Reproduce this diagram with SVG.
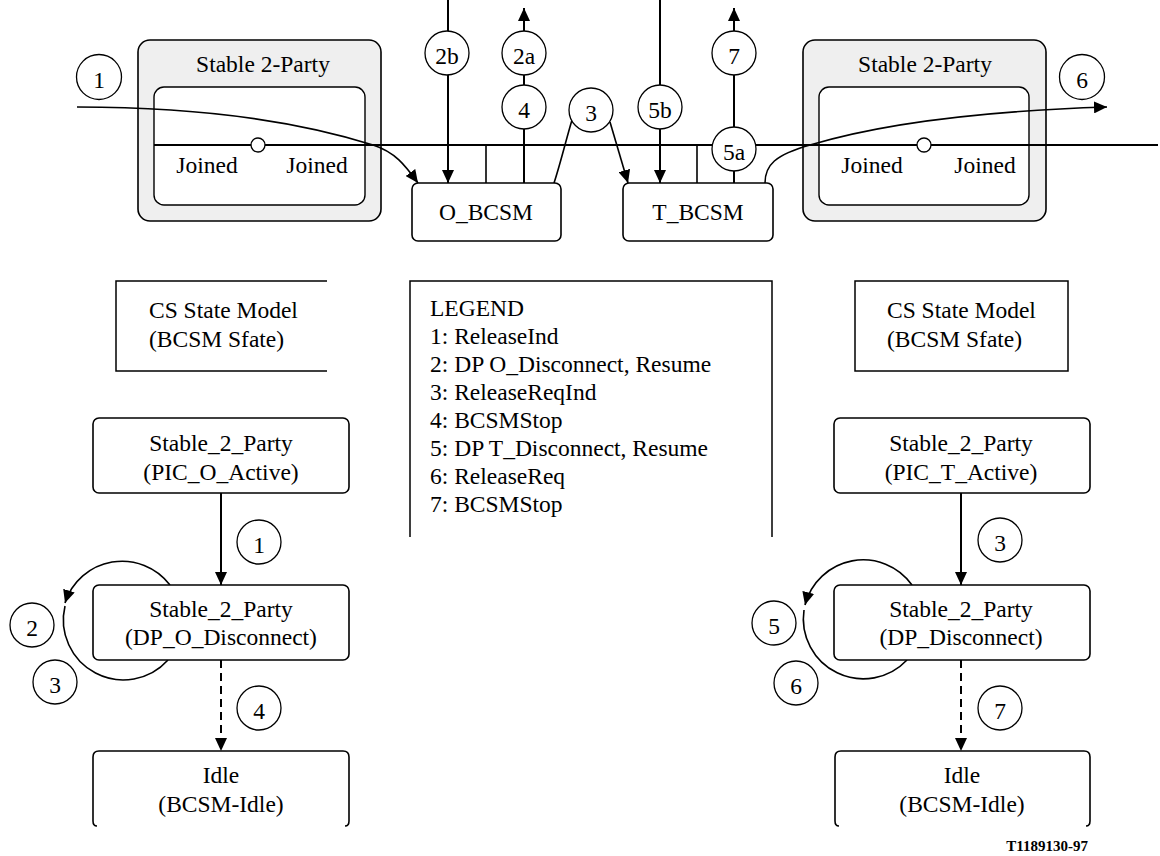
<svg xmlns="http://www.w3.org/2000/svg" width="1160" height="856" viewBox="0 0 1160 856" font-family="'Liberation Serif', 'DejaVu Serif', serif">
<style>
text{font-family:'Liberation Serif','DejaVu Serif',serif;font-size:23.5px;fill:#000}
.c{text-anchor:middle}
.box{fill:#fff;stroke:#000;stroke-width:1.6}
.gray{fill:#efefef;stroke:#000;stroke-width:1.6}
.inner{fill:#fff;stroke:#000;stroke-width:1.4}
.ln{fill:none;stroke:#000;stroke-width:2}
.thin{fill:none;stroke:#000;stroke-width:1.6}
.dash{fill:none;stroke:#000;stroke-width:2;stroke-dasharray:8 5}
.lbl{fill:#fff;stroke:#000;stroke-width:1.3}
.frame{fill:none;stroke:#000;stroke-width:1.5}
</style>
<defs>
<marker id="ah" viewBox="0 0 13 12" refX="13" refY="6" markerWidth="13" markerHeight="12" markerUnits="userSpaceOnUse" orient="auto"><path d="M0,0 L13,6 L0,12 z" fill="#000"/></marker>
</defs>
<rect width="1160" height="856" fill="#fff"/>

<g id="stable-left">
<rect class="gray" x="138" y="40" width="243" height="181" rx="12"/>
<rect class="inner" x="154" y="87" width="211" height="118" rx="10"/>
<text class="c" x="263" y="72">Stable 2-Party</text>
<text class="c" x="207" y="173">Joined</text>
<text class="c" x="317" y="173">Joined</text>
</g>
<g id="stable-right">
<rect class="gray" x="803" y="40" width="243" height="181" rx="12"/>
<rect class="inner" x="819" y="87" width="210" height="118" rx="10"/>
<text class="c" x="925" y="72">Stable 2-Party</text>
<text class="c" x="872" y="173">Joined</text>
<text class="c" x="985" y="173">Joined</text>
</g>

<g id="o-bcsm">
<rect class="box" x="412" y="183" width="149" height="58" rx="6"/>
<text class="c" x="486" y="220">O_BCSM</text>
</g>
<g id="t-bcsm">
<rect class="box" x="623" y="183" width="150" height="58" rx="6"/>
<text class="c" x="698" y="220">T_BCSM</text>
</g>

<g id="connectors">
<line class="ln" x1="154" y1="145" x2="1158" y2="145"/>
<line class="thin" x1="486" y1="145" x2="486" y2="183"/>
<line class="thin" x1="697" y1="145" x2="697" y2="183"/>
<path class="thin" d="M77,107 C200,107 300,122 373,145 C395,152 405,165 418,183" marker-end="url(#ah)"/>
<line class="ln" x1="448" y1="0" x2="448" y2="183" marker-end="url(#ah)"/>
<line class="ln" x1="524" y1="183" x2="524" y2="8" marker-end="url(#ah)"/>
<path class="thin" d="M554,183 C560,165 566,140 572,120"/>
<line class="thin" x1="610" y1="122" x2="628" y2="183" marker-end="url(#ah)"/>
<line class="ln" x1="660" y1="0" x2="660" y2="183" marker-end="url(#ah)"/>
<line class="ln" x1="734" y1="183" x2="734" y2="8" marker-end="url(#ah)"/>
<path class="thin" d="M765,183 C765,165 775,155 810,145 C860,130 950,112 1107,107" marker-end="url(#ah)"/>

<line class="ln" x1="221" y1="493" x2="221" y2="585" marker-end="url(#ah)"/>
<path class="thin" d="M170,585 A60,60 0 0 0 65,603" marker-end="url(#ah)"/>
<path class="thin" d="M65,606 A60,60 0 0 0 168,660"/>
<line class="dash" x1="221" y1="660" x2="221" y2="751" marker-end="url(#ah)"/>

<line class="ln" x1="961" y1="493" x2="961" y2="585" marker-end="url(#ah)"/>
<path class="thin" d="M912,585 A60,60 0 0 0 805,605" marker-end="url(#ah)"/>
<path class="thin" d="M804,610 A60,60 0 0 0 907,660"/>
<line class="dash" x1="961" y1="660" x2="961" y2="751" marker-end="url(#ah)"/>
</g>

<g id="points">
<circle class="lbl" cx="258" cy="145" r="7"/>
<circle class="lbl" cx="924" cy="145" r="7"/>
</g>

<g id="connector-labels">
<circle class="lbl" cx="99" cy="77" r="22.5"/><text class="c" x="99" y="88">1</text>
<circle class="lbl" cx="447" cy="53" r="22"/><text class="c" x="447" y="64">2b</text>
<circle class="lbl" cx="524" cy="53" r="22"/><text class="c" x="524" y="64">2a</text>
<circle class="lbl" cx="524" cy="107" r="22"/><text class="c" x="524" y="118">4</text>
<circle class="lbl" cx="591" cy="110" r="22"/><text class="c" x="591" y="121">3</text>
<circle class="lbl" cx="660" cy="107" r="22"/><text class="c" x="660" y="118">5b</text>
<circle class="lbl" cx="734" cy="53" r="22"/><text class="c" x="734" y="64">7</text>
<circle class="lbl" cx="734" cy="149" r="22"/><text class="c" x="734" y="160">5a</text>
<circle class="lbl" cx="1082" cy="77" r="22.5"/><text class="c" x="1082" y="88">6</text>

<circle class="lbl" cx="259" cy="542" r="22"/><text class="c" x="259" y="553">1</text>
<circle class="lbl" cx="32" cy="625" r="22"/><text class="c" x="32" y="636">2</text>
<circle class="lbl" cx="55" cy="682" r="22"/><text class="c" x="55" y="693">3</text>
<circle class="lbl" cx="259" cy="708" r="22"/><text class="c" x="259" y="719">4</text>

<circle class="lbl" cx="1000" cy="540" r="22"/><text class="c" x="1000" y="551">3</text>
<circle class="lbl" cx="774" cy="623" r="22"/><text class="c" x="774" y="634">5</text>
<circle class="lbl" cx="796" cy="683" r="22"/><text class="c" x="796" y="694">6</text>
<circle class="lbl" cx="1000" cy="708" r="22"/><text class="c" x="1000" y="719">7</text>
</g>

<g id="cs-left">
<path class="frame" d="M327,281 L116,281 L116,371 L327,371"/>
<text x="149" y="318">CS State Model</text>
<text x="149" y="347">(BCSM Sfate)</text>
</g>
<g id="legend">
<path class="frame" d="M410,537 L410,281 L772,281 L772,537"/>
<text x="430" y="316">LEGEND</text>
<text x="430" y="344">1: ReleaseInd</text>
<text x="430" y="372">2: DP O_Disconnect, Resume</text>
<text x="430" y="400">3: ReleaseReqInd</text>
<text x="430" y="428">4: BCSMStop</text>
<text x="430" y="456">5: DP T_Disconnect, Resume</text>
<text x="430" y="484">6: ReleaseReq</text>
<text x="430" y="512">7: BCSMStop</text>
</g>
<g id="cs-right">
<rect class="frame" x="855" y="281" width="213" height="90"/>
<text x="887" y="318">CS State Model</text>
<text x="887" y="347">(BCSM Sfate)</text>
</g>

<g id="pic-o-active">
<rect class="box" x="93" y="418" width="256" height="75" rx="6"/>
<text class="c" x="221" y="451">Stable_2_Party</text>
<text class="c" x="221" y="480">(PIC_O_Active)</text>
</g>
<g id="dp-o-disconnect">
<rect class="box" x="93" y="585" width="256" height="75" rx="6"/>
<text class="c" x="221" y="617">Stable_2_Party</text>
<text class="c" x="221" y="645">(DP_O_Disconnect)</text>
</g>
<g id="idle-left">
<path class="thin" d="M97,826 Q93,826 93,821 L93,757 Q93,751 99,751 L343,751 Q349,751 349,757 L349,821 Q349,826 345,826"/>
<text class="c" x="221" y="783">Idle</text>
<text class="c" x="221" y="812">(BCSM-Idle)</text>
</g>

<g id="pic-t-active">
<rect class="box" x="834" y="418" width="256" height="75" rx="6"/>
<text class="c" x="961" y="451">Stable_2_Party</text>
<text class="c" x="961" y="480">(PIC_T_Active)</text>
</g>
<g id="dp-disconnect">
<rect class="box" x="834" y="585" width="256" height="75" rx="6"/>
<text class="c" x="961" y="617">Stable_2_Party</text>
<text class="c" x="961" y="645">(DP_Disconnect)</text>
</g>
<g id="idle-right">
<path class="thin" d="M839,826 Q835,826 835,821 L835,757 Q835,751 841,751 L1084,751 Q1090,751 1090,757 L1090,821 Q1090,826 1086,826"/>
<text class="c" x="962" y="783">Idle</text>
<text class="c" x="962" y="812">(BCSM-Idle)</text>
</g>

<text x="1088" y="851" style="font-size:15px;font-weight:bold;text-anchor:end">T1189130-97</text>
</svg>
